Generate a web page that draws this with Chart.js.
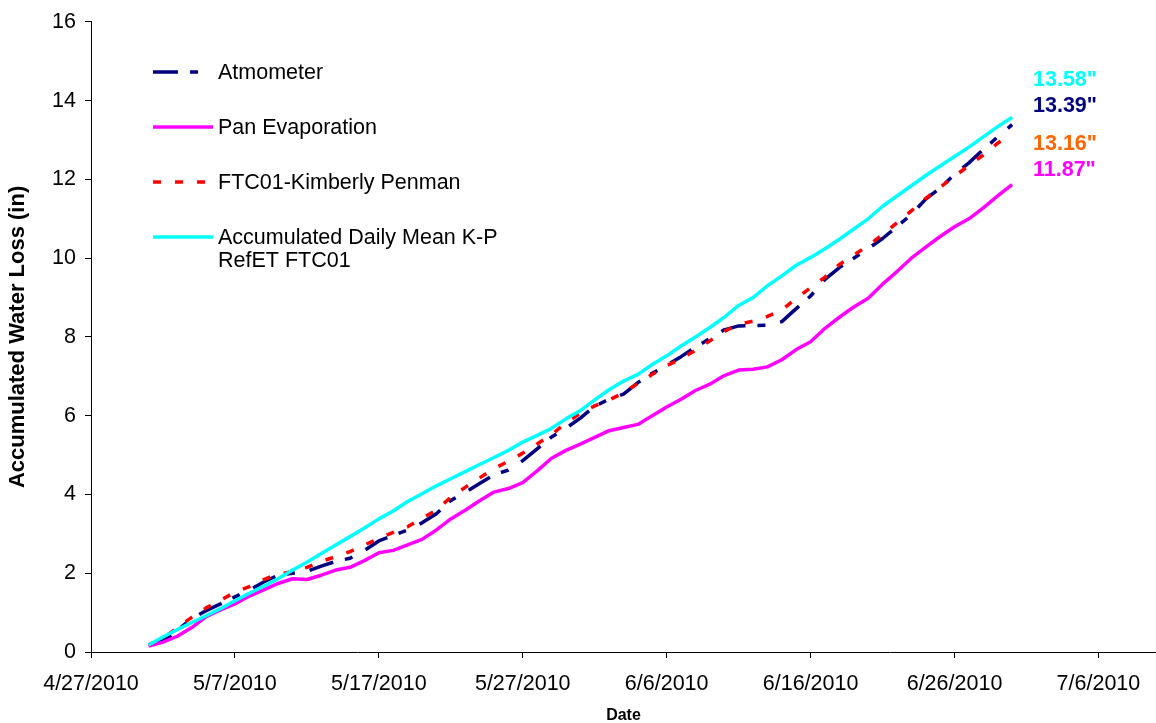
<!DOCTYPE html>
<html><head><meta charset="utf-8">
<script src="https://cdn.jsdelivr.net/npm/chart.js@4.4.1/dist/chart.umd.min.js"></script>
<style>html,body{margin:0;padding:0;background:#fff;}#wrap{width:1156px;height:723px;position:relative;}</style>
</head><body><div id="wrap"><canvas id="c" width="1156" height="723"></canvas></div>
<script>
const dates = [
 '5/1/2010','5/2/2010','5/3/2010','5/4/2010','5/5/2010','5/6/2010','5/7/2010','5/8/2010','5/9/2010','5/10/2010',
 '5/11/2010','5/12/2010','5/13/2010','5/14/2010','5/15/2010','5/16/2010','5/17/2010','5/18/2010','5/19/2010','5/20/2010',
 '5/21/2010','5/22/2010','5/23/2010','5/24/2010','5/25/2010','5/26/2010','5/27/2010','5/28/2010','5/29/2010','5/30/2010','5/31/2010',
 '6/1/2010','6/2/2010','6/3/2010','6/4/2010','6/5/2010','6/6/2010','6/7/2010','6/8/2010','6/9/2010','6/10/2010',
 '6/11/2010','6/12/2010','6/13/2010','6/14/2010','6/15/2010','6/16/2010','6/17/2010','6/18/2010','6/19/2010','6/20/2010',
 '6/21/2010','6/22/2010','6/23/2010','6/24/2010','6/25/2010','6/26/2010','6/27/2010','6/28/2010','6/29/2010','6/30/2010'
];
const atmometer = [
 0.18,0.28,0.55,0.85,1.05,1.22,1.40,1.57,1.78,1.95,
 2.00,2.05,2.18,2.30,2.38,2.58,2.82,2.96,3.10,3.28,
 3.51,3.85,4.05,4.28,4.50,4.62,4.86,5.16,5.46,5.68,5.94,
 6.24,6.42,6.55,6.84,7.08,7.28,7.50,7.74,7.96,8.18,
 8.28,8.29,8.30,8.39,8.72,9.04,9.46,9.76,10.00,10.24,
 10.50,10.80,11.11,11.50,11.78,12.13,12.42,12.76,13.08,13.39
];
const panEvaporation = [
 0.15,0.25,0.40,0.62,0.90,1.07,1.22,1.42,1.58,1.74,
 1.86,1.84,1.95,2.08,2.15,2.32,2.52,2.58,2.72,2.86,
 3.10,3.38,3.60,3.84,4.06,4.15,4.30,4.60,4.92,5.12,5.28,
 5.45,5.62,5.70,5.78,6.00,6.22,6.42,6.64,6.80,7.02,
 7.16,7.18,7.24,7.42,7.68,7.88,8.22,8.50,8.76,8.98,
 9.34,9.66,10.00,10.28,10.55,10.80,11.00,11.28,11.58,11.87
];
const kimberlyPenman = [
 0.18,0.35,0.62,0.88,1.12,1.31,1.52,1.66,1.84,1.98,
 2.04,2.15,2.30,2.42,2.55,2.72,2.88,3.04,3.18,3.40,
 3.60,3.93,4.18,4.42,4.66,4.84,5.05,5.28,5.52,5.82,6.06,
 6.25,6.40,6.58,6.82,7.05,7.27,7.45,7.66,7.90,8.14,
 8.32,8.40,8.52,8.68,8.98,9.25,9.52,9.84,10.08,10.32,
 10.60,10.90,11.20,11.52,11.80,12.08,12.35,12.62,12.92,13.16
];
const dailyMeanKP = [
 0.18,0.38,0.57,0.75,0.92,1.10,1.30,1.49,1.67,1.86,
 2.08,2.28,2.50,2.72,2.93,3.15,3.38,3.58,3.82,4.02,
 4.22,4.40,4.58,4.76,4.94,5.12,5.33,5.50,5.68,5.92,6.13,
 6.40,6.66,6.88,7.05,7.30,7.52,7.77,8.00,8.24,8.50,
 8.80,9.00,9.30,9.55,9.82,10.02,10.24,10.48,10.74,11.00,
 11.32,11.58,11.84,12.10,12.34,12.58,12.82,13.08,13.34,13.58
];
const seriesNames = ['Atmometer','Pan Evaporation','FTC01-Kimberly Penman',['Accumulated Daily Mean K-P','RefET FTC01']];
const xTickDates = ['4/27/2010','5/7/2010','5/17/2010','5/27/2010','6/6/2010','6/16/2010','6/26/2010','7/6/2010'];
const xAxisEnd = '7/10/2010';
const yTicks = [0,2,4,6,8,10,12,14,16];
const endLabels = ['13.58"','13.39"','13.16"','11.87"'];

const FONT = '"Liberation Sans", Arial, sans-serif';
const FS = 21.5;
const origin = Date.UTC(2010,3,27);
function dayNum(s){const p=s.split('/').map(Number);return Math.round((Date.UTC(p[2],p[0]-1,p[1])-origin)/86400000);}
function pts(arr){return arr.map((v,i)=>({x:dayNum(dates[i]),y:v}));}

const styles = [
 {color:'#000080', width:3.5, dash:[25,12,8,15]},
 {color:'#FF00FF', width:3.5, dash:[]},
 {color:'#FF0000', width:3.5, dash:[8,14]},
 {color:'#00FFFF', width:3.5, dash:[]}
];
const seriesData = [atmometer, panEvaporation, kimberlyPenman, dailyMeanKP];
const drawOrder = [3,2,1,0];

const datasets = seriesData.map((arr,i)=>({
  label: Array.isArray(seriesNames[i]) ? seriesNames[i].join(' ') : seriesNames[i],
  data: pts(arr),
  borderColor: styles[i].color,
  backgroundColor: styles[i].color,
  borderWidth: styles[i].width,
  borderDash: styles[i].dash,
  borderCapStyle: 'butt',
  borderJoinStyle: 'round',
  pointRadius: 0,
  tension: 0,
  fill: false,
  order: drawOrder[i]
}));

const legendPlugin = {
  id:'customLegend',
  afterDraw(chart){
    const ctx = chart.ctx;
    const rowsY = [72,127,182,237];
    ctx.save();
    seriesNames.forEach((name,i)=>{
      const y = rowsY[i];
      ctx.beginPath();
      ctx.strokeStyle = styles[i].color;
      ctx.lineWidth = styles[i].width;
      ctx.setLineDash(styles[i].dash);
      ctx.lineCap = 'butt';
      ctx.moveTo(153,y); ctx.lineTo(213,y); ctx.stroke();
      ctx.setLineDash([]);
      ctx.fillStyle = '#000';
      ctx.font = FS + 'px ' + FONT;
      ctx.textBaseline = 'middle';
      ctx.textAlign = 'left';
      const lines = Array.isArray(name) ? name : [name];
      lines.forEach((t,k)=>ctx.fillText(t,218,y+1+k*23));
    });
    const labelColors = ['#00FFFF','#000080','#FF6600','#FF00FF'];
    const labelY = [80,106,144,170];
    ctx.font = 'bold ' + FS + 'px ' + FONT;
    endLabels.forEach((t,i)=>{ctx.fillStyle=labelColors[i];ctx.fillText(t,1033,labelY[i]);});
    ctx.restore();
  }
};

new Chart(document.getElementById('c'),{
  type:'line',
  data:{datasets},
  options:{
    responsive:false, animation:false, devicePixelRatio:1,
    layout:{padding:{top:20,right:0,bottom:0,left:0}},
    plugins:{legend:{display:false},tooltip:{enabled:false}},
    scales:{
      x:{
        type:'linear', min:dayNum(xTickDates[0]), max:dayNum(xAxisEnd),
        afterBuildTicks:(s)=>{s.ticks = xTickDates.map(d=>({value:dayNum(d)}));},
        afterFit:(s)=>{s.height = 71;},
        ticks:{
          autoSkip:false, maxRotation:0, minRotation:0, padding:13, color:'#000',
          font:{family:FONT,size:FS},
          callback:(v)=>{const f=xTickDates.find(d=>dayNum(d)===v);return f||'';}
        },
        grid:{drawOnChartArea:false, drawTicks:true, tickLength:6, color:'#000', lineWidth:1},
        border:{display:true,color:'#000',width:1},
        title:{display:true,text:'Date',color:'#000',font:{family:FONT,size:16,weight:'bold',lineHeight:1},padding:{top:0,bottom:-1}}
      },
      y:{
        min:yTicks[0], max:yTicks[yTicks.length-1],
        afterBuildTicks:(s)=>{s.ticks = yTicks.map(v=>({value:v}));},
        afterFit:(s)=>{s.width = 91;},
        ticks:{padding:9,color:'#000',font:{family:FONT,size:FS}},
        grid:{drawOnChartArea:false, drawTicks:true, tickLength:6, color:'#000', lineWidth:1},
        border:{display:true,color:'#000',width:1},
        title:{display:true,text:'Accumulated Water Loss (in)',color:'#000',font:{family:FONT,size:22,weight:'bold',lineHeight:1.2},padding:{top:5,bottom:0}}
      }
    }
  },
  plugins:[legendPlugin]
});
</script></body></html>
